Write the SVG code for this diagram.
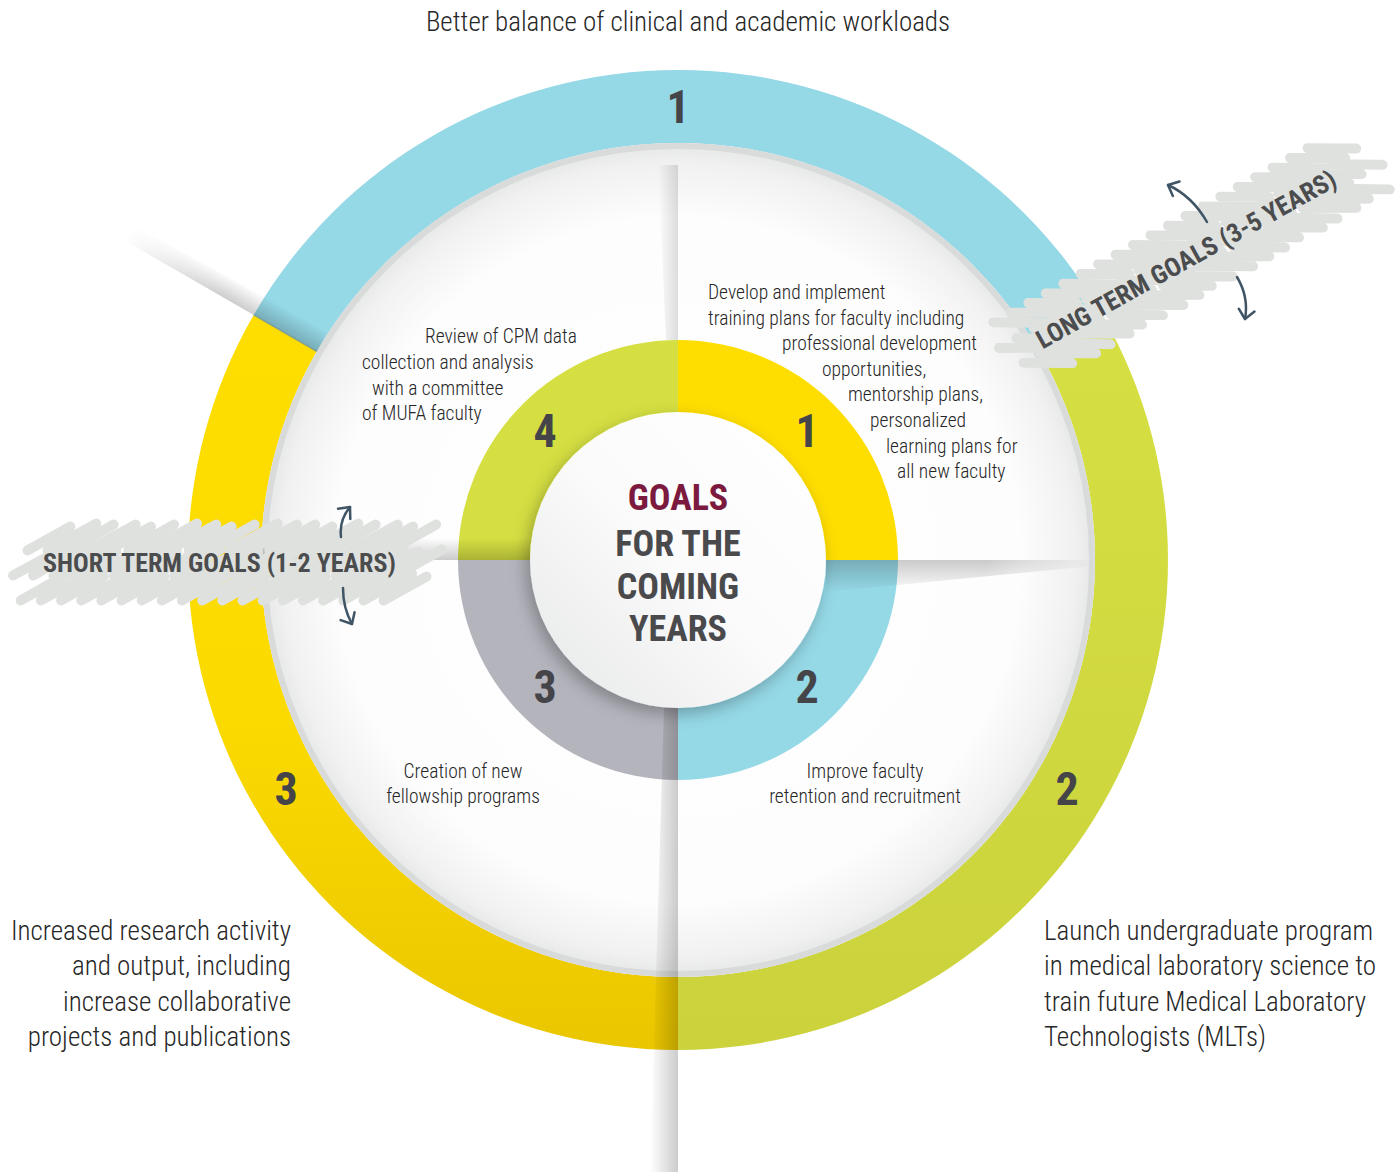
<svg xmlns="http://www.w3.org/2000/svg" xmlns:xlink="http://www.w3.org/1999/xlink" width="1400" height="1174" viewBox="0 0 1400 1174">
<defs>
<style>
.tx{font-family:"Roboto Condensed","Liberation Sans Narrow","DejaVu Sans Condensed","Liberation Sans",sans-serif;font-stretch:condensed;font-weight:300;fill:#262626}
.big{font-size:27px}
.sm{font-size:19.5px}
.num{font-family:"Roboto Condensed","Liberation Sans Narrow","DejaVu Sans Condensed","Liberation Sans",sans-serif;font-stretch:condensed;font-weight:700;font-size:46px;fill:#444449;text-anchor:middle}
.ctr{font-family:"Roboto Condensed","Liberation Sans Narrow","DejaVu Sans Condensed","Liberation Sans",sans-serif;font-stretch:condensed;font-weight:700;font-size:36px;fill:#4a4a4d;text-anchor:middle}
.ban{font-family:"Roboto Condensed","Liberation Sans Narrow","DejaVu Sans Condensed","Liberation Sans",sans-serif;font-stretch:condensed;font-weight:700;font-size:26px;fill:#4b4c4e;text-anchor:middle}
.scr{fill:none;stroke:#dfe1df;stroke-width:10;stroke-linecap:round}
.arr{fill:none;stroke:#3f5566;stroke-width:2.5;stroke-linecap:round;marker-end:url(#chev)}
.mid{text-anchor:middle}
.end{text-anchor:end}
</style>
<marker id="chev" viewBox="-12 -10 16 20" markerWidth="16" markerHeight="20" refX="0" refY="0" orient="auto" markerUnits="userSpaceOnUse">
<path d="M-9,-8 L0,0 L-9,8" fill="none" stroke="#3f5566" stroke-width="2.5" stroke-linecap="round" stroke-linejoin="round"/>
</marker>
<radialGradient id="disk" cx="678" cy="560" r="417" gradientUnits="userSpaceOnUse">
<stop offset="0" stop-color="#ffffff"/>
<stop offset="0.82" stop-color="#fdfdfd"/>
<stop offset="0.95" stop-color="#f1f1f2"/>
<stop offset="1" stop-color="#e5e6e6"/>
</radialGradient>
<linearGradient id="yel" x1="0" y1="0" x2="0" y2="1">
<stop offset="0" stop-color="#fedd00"/>
<stop offset="0.55" stop-color="#fbda00"/>
<stop offset="1" stop-color="#eac600"/>
</linearGradient>
<linearGradient id="grn" x1="0" y1="0" x2="0" y2="1">
<stop offset="0" stop-color="#d6e042"/>
<stop offset="1" stop-color="#cbd23c"/>
</linearGradient>
<linearGradient id="shade" x1="0" y1="0" x2="0" y2="1">
<stop offset="0" stop-color="#000" stop-opacity="0.2"/>
<stop offset="1" stop-color="#000" stop-opacity="0"/>
</linearGradient>
<linearGradient id="shadeL" x1="0" y1="0" x2="0" y2="1">
<stop offset="0" stop-color="#000" stop-opacity="0.13"/>
<stop offset="1" stop-color="#000" stop-opacity="0"/>
</linearGradient>
<linearGradient id="cdisk" x1="0" y1="1" x2="1" y2="0">
<stop offset="0" stop-color="#e6e7e8"/>
<stop offset="0.5" stop-color="#fbfbfb"/>
<stop offset="1" stop-color="#ffffff"/>
</linearGradient>
<linearGradient id="fadeX" x1="417" y1="0" x2="640" y2="0" gradientUnits="userSpaceOnUse">
<stop offset="0" stop-color="#fff"/>
<stop offset="0.5" stop-color="#fff"/>
<stop offset="1" stop-color="#000"/>
</linearGradient>
<linearGradient id="fadeR" x1="148" y1="0" x2="415" y2="0" gradientUnits="userSpaceOnUse">
<stop offset="0" stop-color="#fff"/>
<stop offset="0.6" stop-color="#fff"/>
<stop offset="1" stop-color="#000"/>
</linearGradient>
<mask id="diagMask" maskUnits="userSpaceOnUse" x="400" y="-40" width="260" height="80">
<rect x="400" y="-40" width="260" height="80" fill="url(#fadeX)"/>
</mask>
<mask id="rMask" maskUnits="userSpaceOnUse" x="140" y="-40" width="290" height="80">
<rect x="140" y="-40" width="290" height="80" fill="url(#fadeR)"/>
</mask>
<filter id="ds" x="-30%" y="-30%" width="160%" height="160%">
<feDropShadow dx="-4" dy="6" stdDeviation="8" flood-color="#000" flood-opacity="0.28"/>
</filter>
<path id="scribble" class="scr" d="M-214,38 l48,-26m-27,26 l51,-27m-30,27 l45,-24m-24,24 l50,-26m-29,26 l48,-26m-27,26 l45,-24m-24,24 l51,-27m-30,27 l50,-26m-29,26 l48,-26m-27,26 l51,-27m-30,27 l45,-24m-24,24 l50,-26m-29,26 l48,-26m-27,26 l45,-24m-24,24 l51,-27m-30,27 l50,-26m-29,26 l48,-26m-27,26 l51,-27m-30,27 l45,-24m-24,24
M-222,13 l50,-26m-29,26 l48,-26m-27,26 l51,-27m-30,27 l45,-24m-24,24 l50,-26m-29,26 l48,-26m-27,26 l45,-24m-24,24 l51,-27m-30,27 l48,-26m-27,26 l50,-26m-29,26 l45,-24m-24,24 l51,-27m-30,27 l48,-26m-27,26 l50,-26m-29,26 l45,-24m-24,24 l48,-26m-27,26 l51,-27m-30,27 l50,-26m-29,26 l45,-24m-24,24 l48,-26m-27,26
M-207,-12 l45,-24m-24,24 l51,-27m-30,27 l48,-26m-27,26 l50,-26m-29,26 l45,-24m-24,24 l48,-26m-27,26 l51,-27m-30,27 l50,-26m-29,26 l45,-24m-24,24 l48,-26m-27,26 l51,-27m-30,27 l50,-26m-29,26 l48,-26m-27,26 l45,-24m-24,24 l51,-27m-30,27 l48,-26m-27,26 l50,-26m-29,26 l45,-24m-24,24 l48,-26m-27,26"/>
</defs>

<rect width="1400" height="1174" fill="#ffffff"/>

<g id="outer-ring">
<path id="seg-outer-1" d="M253.65,315 A490,490 0 0 1 1102.35,315 L1039.13,351.5 A417,417 0 0 0 316.87,351.5 Z" fill="#95d8e6"/>
<path id="seg-outer-2" d="M1102.35,315 A490,490 0 0 1 678,1050 L678,977 A417,417 0 0 0 1039.13,351.5 Z" fill="url(#grn)"/>
<path id="seg-outer-3" d="M678,1050 A490,490 0 0 1 253.65,315 L316.87,351.5 A417,417 0 0 0 678,977 Z" fill="url(#yel)"/>
</g>

<g id="white-disk">
<circle cx="678" cy="560" r="417" fill="url(#disk)"/>
<circle cx="678" cy="560" r="414" fill="none" stroke="#d9dada" stroke-width="6"/>
</g>

<g id="inner-ring">
<path id="seg-inner-1" d="M678,340 A220,220 0 0 1 898,560 L678,560 Z" fill="#fedd00"/>
<path id="seg-inner-2" d="M898,560 A220,220 0 0 1 678,780 L678,560 Z" fill="#95d8e6"/>
<path id="seg-inner-3" d="M678,780 A220,220 0 0 1 458,560 L678,560 Z" fill="#b4b4bd"/>
<path id="seg-inner-4" d="M458,560 A220,220 0 0 1 678,340 L678,560 Z" fill="#d5df42"/>
</g>

<g id="connectors">
<g transform="translate(678,560)">
<polygon points="148,0 415,0 415,6 148,32" fill="url(#shade)" mask="url(#rMask)"/>
</g>
<g transform="translate(678,560) rotate(90)">
<polygon points="148,0 612,0 612,28 148,14" fill="url(#shade)"/>
</g>
<g transform="translate(678,560) rotate(-90) scale(1,-1)">
<polygon points="220,0 395,0 395,20 220,12" fill="url(#shadeL)"/>
</g>
<g transform="translate(678,560) rotate(180)">
<polygon points="148,0 415,0 415,18 148,22" fill="url(#shade)"/>
</g>
<g transform="translate(678,560) rotate(-150)">
<polygon points="417,0 640,0 640,18 417,22" fill="url(#shade)" mask="url(#diagMask)"/>
<line x1="417" y1="0" x2="490" y2="0" stroke="#6a8f98" stroke-width="1.5" stroke-opacity="0.6"/>
</g>
</g>

<g id="center">
<circle cx="678" cy="560" r="148" fill="url(#cdisk)" filter="url(#ds)"/>
<text class="ctr" x="678" y="510" style="fill:#7b1a3e">GOALS</text>
<text class="ctr" x="678" y="556">FOR THE</text>
<text class="ctr" x="678" y="599">COMING</text>
<text class="ctr" x="678" y="641">YEARS</text>
</g>

<g id="numbers">
<text class="num" x="678" y="123">1</text>
<text class="num" x="1067" y="805">2</text>
<text class="num" x="286" y="805">3</text>
<text class="num" x="807" y="447">1</text>
<text class="num" x="807" y="703">2</text>
<text class="num" x="545" y="703">3</text>
<text class="num" x="545" y="447">4</text>
</g>

<g id="label-outer-1">
<text class="tx big mid" x="688" y="31">Better balance of clinical and academic workloads</text>
</g>
<g id="label-outer-3">
<text class="tx big end" x="291" y="940">Increased research activity</text>
<text class="tx big end" x="291" y="975">and output, including</text>
<text class="tx big end" x="291" y="1011">increase collaborative</text>
<text class="tx big end" x="291" y="1046">projects and publications</text>
</g>
<g id="label-outer-2">
<text class="tx big" x="1044" y="940">Launch undergraduate program</text>
<text class="tx big" x="1044" y="975">in medical laboratory science to</text>
<text class="tx big" x="1044" y="1011">train future Medical Laboratory</text>
<text class="tx big" x="1044" y="1046">Technologists (MLTs)</text>
</g>
<g id="label-inner-1">
<text class="tx sm" x="708" y="299">Develop and implement</text>
<text class="tx sm" x="708" y="325">training plans for faculty including</text>
<text class="tx sm" x="782" y="350">professional development</text>
<text class="tx sm" x="822" y="376">opportunities,</text>
<text class="tx sm" x="848" y="401">mentorship plans,</text>
<text class="tx sm" x="870" y="427">personalized</text>
<text class="tx sm" x="886" y="453">learning plans for</text>
<text class="tx sm" x="897" y="478">all new faculty</text>
</g>
<g id="label-inner-4">
<text class="tx sm" x="425" y="343">Review of CPM data</text>
<text class="tx sm" x="362" y="369">collection and analysis</text>
<text class="tx sm" x="372" y="395">with a committee</text>
<text class="tx sm" x="362" y="420">of MUFA faculty</text>
</g>
<g id="label-inner-3">
<text class="tx sm mid" x="463" y="778">Creation of new</text>
<text class="tx sm mid" x="463" y="803">fellowship programs</text>
</g>
<g id="label-inner-2">
<text class="tx sm mid" x="865" y="778">Improve faculty</text>
<text class="tx sm mid" x="865" y="803">retention and recruitment</text>
</g>

<g id="banner-short" transform="translate(222,562.5)">
<use xlink:href="#scribble" href="#scribble" transform="translate(4,0) scale(0.96,1)"/>
<text class="ban" x="-2.5" y="9.5">SHORT TERM GOALS (1-2 YEARS)</text>
</g>
<g id="banner-long" transform="translate(1186,259) rotate(-29)">
<use xlink:href="#scribble" href="#scribble" transform="translate(4,0) scale(0.95,-1)"/>
<text class="ban" x="0" y="9.5">LONG TERM GOALS (3-5 YEARS)</text>
</g>

<g id="arrows">
<path class="arr" d="M341,537 Q339,520 350,507"/>
<path class="arr" d="M343,588 Q343,608 352,624"/>
<path class="arr" d="M1207,222 Q1192,196 1168,185"/>
<path class="arr" d="M1237,277 Q1249,297 1245,319"/>
</g>
</svg>
